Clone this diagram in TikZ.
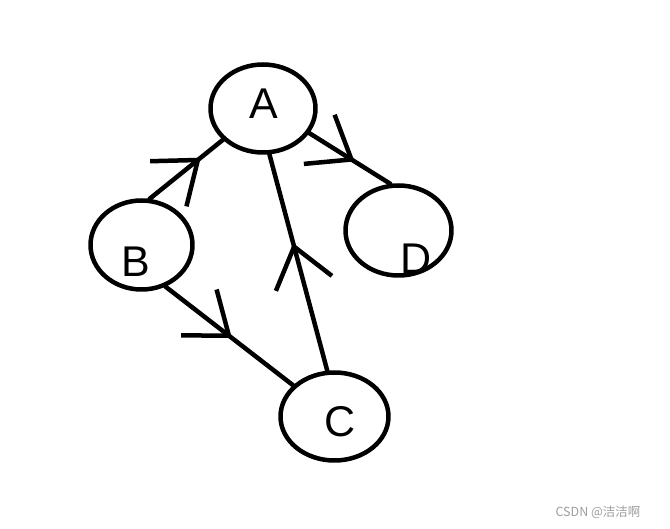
\documentclass[tikz,border=0pt]{standalone}
\usepackage{fontspec}
\setmainfont{Liberation Sans}
\newfontfamily\cjkfont{Noto Sans CJK SC}
\usetikzlibrary{shapes.geometric,arrows.meta,decorations.markings}

\begin{document}
\begin{tikzpicture}[
  x=1pt, y=-1pt, line width=4.5pt, line cap=round, line join=round,
  vert/.style={draw, ellipse, inner sep=0pt},
  lbl/.style={font=\fontsize{43}{43}\selectfont, inner sep=0pt},
  midarr/.style={postaction={decorate}, decoration={markings,
      mark=at position #1 with {\arrow{Straight Barb[length=38pt,width=58pt]}}}}
]
  \useasboundingbox[fill=white] (0,0) rectangle (670,529);
  \node[vert, minimum width=105pt, minimum height=88pt] (na) at (263,108.5) {};
  \node[vert, minimum width=102pt, minimum height=89pt] (nb) at (141.5,245) {};
  \node[vert, minimum width=108pt, minimum height=88pt] (nc) at (334.5,416.5) {};
  \node[vert, minimum width=106pt, minimum height=90pt] (nd) at (398.5,230.5) {};
  \node[lbl] (ta) at (264,104) {A};
  \node[lbl] (tb) at (136,262) {B};
  \node[lbl] (tc) at (340,422) {C};
  \node[lbl] (td) at (416,259) {D};
  \draw[midarr=0.70] (nb.80) -- (na.218);
  \draw[midarr=0.56] (na.-28) -- (nd.100);
  \draw[midarr=0.59] (nc.99) -- (na.-82);
  \draw[midarr=0.52] (nb.-60) -- (nc.143);
  \node[text=black!38, font=\cjkfont\fontsize{12.5}{12.5}\selectfont] (wm) at (598,512) {CSDN @洁洁啊};
\end{tikzpicture}
\end{document}
